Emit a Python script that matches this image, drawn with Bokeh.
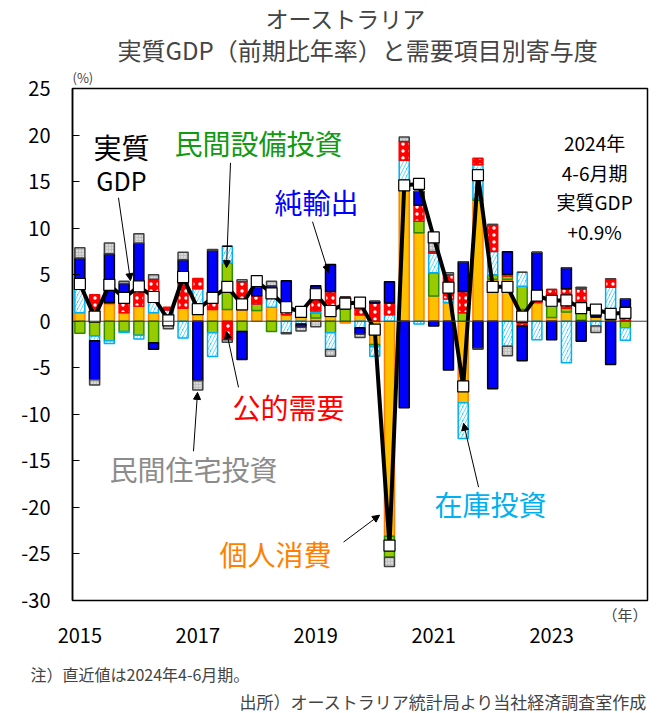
import numpy as np
from bokeh.plotting import figure
from bokeh.models import (Range1d, Label, Arrow, NormalHead, Span, FixedTicker,
                          ColumnDataSource, Title, LinearAxis)
from bokeh.embed import file_html
from bokeh.resources import INLINE

# ---- data (2015Q1 .. 2024Q2, contributions in %pt, q/q annualised) ----
year_ticks = [0, 8, 16, 24, 32]
year_labels = ["2015", "2017", "2019", "2021", "2023"]
y_ticks = [25, 20, 15, 10, 5, 0, -5, -10, -15, -20, -25, -30]
y_labels = ["25", "20", "15", "10", "5", "0", "-5", "-10", "-15", "-20", "-25", "-30"]

gdp = [4.0, 0.5, 3.9, 2.5, 3.75, 2.6, 0.1, 4.75, 1.3, 2.5, 3.7, 1.8, 4.3, 3.0, 1.5, 1.0,
       2.9, 1.1, 1.9, 2.0, -0.9, -24.1, 14.6, 14.75, 9.0, 3.6, -7.0, 15.7, 3.7, 3.7,
       0.5, 2.75, 2.2, 2.25, 1.4, 1.25, 0.8, 0.9]
consumption = [0.9, 1.25, 1.9, 0.9, 1.6, 0.9, 0.7, 1.4, 0.9, 1.25, 1.25, 1.25, 1.15, 1.5, 0.7, 0.55,
               0.35, 0.5, -0.2, 0.7, -2.5, -23.1, 15.2, 9.5, 2.7, 2.0, -8.75, 13.0, 4.5, 4.5,
               1.25, 2.0, 0.4, 1.0, 0.1, 0.45, 0.15, 0.1]
equipment = [-1.3, -1.6, -2.1, -1.1, -1.5, -2.3, 0.0, 0.0, 0.1, -1.25, 5.0, -1.1, 0.7, -1.1, 0.0, 0.15,
             0.55, -1.25, 1.3, 0.0, -0.25, -2.25, 0.0, 1.25, 2.5, 0.0, 0.9, 0.2, 0.5, 0.35,
             2.5, 0.0, 1.3, 0.4, 0.9, 0.0, 0.1, -0.7]
inventory = [2.6, -0.5, -0.3, -0.1, -0.4, 1.6, 0.5, -1.8, 2.5, -2.55, 1.8, 0.0, 0.0, 1.0, -1.25, -0.3,
             0.2, -1.8, 0.0, -0.7, -1.0, 0.7, 2.1, -0.3, 2.1, 0.4, -3.85, 3.6, 2.5, -2.7,
             1.5, -2.0, 0.7, -4.45, 0.9, -0.5, 3.4, -1.35]
public = [1.0, 1.6, 0.1, 1.15, 1.7, 2.0, 0.3, 2.7, 1.1, 1.6, -2.0, 3.0, 0.9, 0.0, 1.25, 0.8,
          1.6, 2.7, 1.3, 1.8, 1.95, 1.25, 2.0, 1.7, 0.2, 2.6, 2.3, 0.7, 2.9, 0.2,
          -0.5, 0.5, 1.0, 2.1, 1.6, 0.0, 0.9, 1.4]
net_exports = [2.3, -4.2, 5.25, 2.0, 5.1, -0.7, -0.3, 2.5, -6.4, 4.75, 0.0, -3.0, 0.9, 1.3, 2.4, -0.35,
               1.1, 2.9, 0.0, -0.7, 0.2, 2.3, -9.3, 1.5, -0.5, -5.25, 3.2, -2.9, -7.25, 2.4,
               -3.75, 4.9, -2.0, 2.25, -2.15, 0.9, -4.65, 0.9]
housing = [1.1, -0.55, 1.15, 0.25, 1.0, 0.5, -0.5, 0.8, -1.0, 0.1, -0.25, 0.2, 0.3, 0.5, -0.1, -0.4,
           -0.6, -0.7, 0.0, -0.35, 0.0, -1.0, 0.5, 0.0, 1.0, 0.2, 0.0, -0.1, 0.0, -1.0,
           0.0, 0.0, 0.0, 0.0, 0.15, -0.7, 0.0, 0.0]

n = len(gdp)
xs = np.arange(n)

FONT = "Noto Sans CJK JP"

W, H = 652, 713
p = figure(width=W, height=H, output_backend="svg", toolbar_location=None,
           x_range=Range1d(-0.5, 38.5), y_range=Range1d(-30, 25),
           x_axis_location=None,
           min_border_left=72, min_border_right=5, min_border_top=88, min_border_bottom=112,
           background_fill_color="white", border_fill_color="white")
p.xgrid.visible = False
p.ygrid.visible = False
p.outline_line_color = "black"
p.outline_line_width = 1.5

# y axis
p.yaxis.ticker = FixedTicker(ticks=y_ticks)
p.yaxis.major_label_overrides = {t: l for t, l in zip(y_ticks, y_labels)}
p.yaxis.major_tick_in = 7
p.yaxis.major_tick_out = 0
p.yaxis.minor_tick_line_color = None
p.yaxis.axis_line_width = 1.5
p.yaxis.major_label_text_font = FONT
p.yaxis.major_label_text_font_size = "20px"
p.yaxis.major_label_text_color = "black"
p.yaxis.major_label_standoff = 22

# ---- panels above (closest to frame first) ----
p.add_layout(Title(text="(%)", align="left", offset=0, text_font=FONT,
                   text_font_size="13px", text_font_style="normal", standoff=4), "above")
p.add_layout(Title(text="実質GDP（前期比年率）と需要項目別寄与度", align="left", offset=45,
                   text_font=FONT, text_font_size="24px", text_font_style="normal",
                   standoff=-6), "above")
p.add_layout(Title(text="オーストラリア", align="left", offset=193, text_font=FONT,
                   text_font_size="23px", text_font_style="normal", standoff=-4), "above")

# ---- panels below (closest to frame first) ----
p.add_layout(Title(text="（年）", align="right", text_font=FONT, text_font_size="15px",
                   text_font_style="normal", standoff=2), "below")
xaxis = LinearAxis(ticker=FixedTicker(ticks=year_ticks),
                   major_label_overrides={t: l for t, l in zip(year_ticks, year_labels)},
                   major_tick_in=0, major_tick_out=0, minor_tick_line_color=None,
                   major_tick_line_color=None, axis_line_color=None,
                   major_label_text_font=FONT, major_label_text_font_size="20px",
                   major_label_text_color="black", major_label_standoff=2)
p.add_layout(xaxis, "below")
# invisible spacer (white tick on white background, no labels)
spacer = LinearAxis(ticker=FixedTicker(ticks=[19]), major_tick_in=0, major_tick_out=14,
                    major_tick_line_color="white", major_tick_line_width=1,
                    minor_tick_line_color=None, minor_tick_in=0, minor_tick_out=0,
                    axis_line_color=None, major_label_standoff=0,
                    major_label_text_color=None, major_label_text_font_size="1px")
p.add_layout(spacer, "below")
p.add_layout(Title(text="注）直近値は2024年4-6月期。", align="left", offset=-42,
                   text_font=FONT, text_font_size="16px", text_font_style="normal",
                   standoff=1), "below")
p.add_layout(Title(text="出所）オーストラリア統計局より当社経済調査室作成", align="right",
                   text_font=FONT, text_font_size="17px", text_font_style="normal",
                   standoff=0), "below")

# stacked bars, positives and negatives stacked separately
series = [
    ("個人消費", consumption, dict(fill_color="#FFC000", line_color="#FF7F00")),
    ("民間設備投資", equipment, dict(fill_color="#99CC00", line_color="#2E8B00")),
    ("在庫投資", inventory, dict(fill_color="#33CCFF", line_color="#00B0F0",
                             hatch_pattern="right_diagonal_line", hatch_color="white",
                             hatch_weight=2.5, hatch_scale=7)),
    ("公的需要", public, dict(fill_color="#FF0000", line_color="#FF0000",
                          hatch_pattern="dot", hatch_color="white",
                          hatch_weight=2, hatch_scale=7)),
    ("純輸出", net_exports, dict(fill_color="#0000FF", line_color="black")),
    ("民間住宅投資", housing, dict(fill_color="#BFBFBF", line_color="#404040",
                             hatch_pattern="dot", hatch_color="white",
                             hatch_weight=1, hatch_scale=3)),
]
pos = np.zeros(n)
neg = np.zeros(n)
for name, vals, style in series:
    v = np.array(vals, dtype=float)
    bottom = np.where(v >= 0, pos, neg)
    top = bottom + v
    pos = np.where(v >= 0, top, pos)
    neg = np.where(v < 0, top, neg)
    src = ColumnDataSource(dict(x=xs, bottom=bottom, top=top))
    p.vbar(x="x", bottom="bottom", top="top", width=0.68, source=src,
           line_width=1.5, **style)

p.add_layout(Span(location=0, dimension="width", line_color="#404040", line_width=1))

gsrc = ColumnDataSource(dict(x=xs, y=gdp))
p.line("x", "y", source=gsrc, line_color="black", line_width=4)
p.scatter("x", "y", source=gsrc, marker="square", size=11, fill_color="white",
          line_color="black", line_width=1.2)

# ---- annotations inside the frame (page pixel positions converted to data) ----
def fx(sx):
    return (sx - 79.4) / 14.74

def fy(sy):
    return (321.7 - sy) / 9.327

def label(sx, sy, text, size, color="black", align="center"):
    p.add_layout(Label(x=fx(sx), y=fy(sy), text=text, text_font=FONT,
                       text_font_size=f"{size}px", text_color=color,
                       text_align=align, text_baseline="middle"))

def arrow(sx0, sy0, sx1, sy1):
    p.add_layout(Arrow(end=NormalHead(size=7, fill_color="black", line_color="black"),
                       x_start=fx(sx0), y_start=fy(sy0), x_end=fx(sx1), y_end=fy(sy1),
                       line_color="black", line_width=1))

label(121, 147, "実質", 28)
label(121, 180, "GDP", 25)
arrow(118, 198, 130, 281)

label(258, 143, "民間設備投資", 28, color="#119911")
arrow(230, 163, 226, 268)

label(316, 202, "純輸出", 28, color="#0000FF")
arrow(312, 222, 328, 273)

label(288, 408, "公的需要", 28, color="#FF0000")
arrow(238, 388, 226, 332)

label(193, 470, "民間住宅投資", 28, color="#8C8C8C")
arrow(193, 452, 197, 393)

label(275, 555, "個人消費", 28, color="#FF7F00")
arrow(343, 543, 379, 516)

label(490, 505, "在庫投資", 28, color="#00B0F0")
arrow(478, 488, 463, 424)

label(594, 143, "2024年", 19)
label(594, 173, "4-6月期", 19)
label(594, 202, "実質GDP", 19)
label(594, 232, "+0.9%", 19)

open("out.html", "w").write(file_html(p, INLINE))
